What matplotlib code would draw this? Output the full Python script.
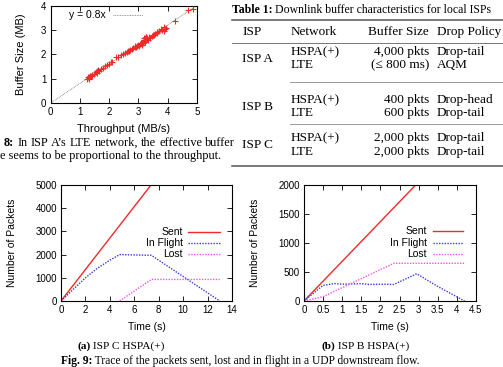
import numpy as np
import matplotlib
matplotlib.use('Agg')
import matplotlib.pyplot as plt
from matplotlib.lines import Line2D

W, H = 503, 367
SANS = ['Liberation Sans', 'DejaVu Sans']
SERIF = ['Liberation Serif', 'DejaVu Serif']

# ---- data (Fig. 8) ----
thr = [1.25, 1.28, 1.30, 1.33, 1.36, 1.40, 1.43, 1.47, 1.55, 1.60, 1.63, 1.67,
       1.72, 1.80, 1.86, 1.92, 2.00, 2.05, 2.10, 2.22, 2.30, 2.42, 2.48, 2.55,
       2.60, 2.65, 2.72, 2.78, 2.83, 2.88, 2.92, 2.96, 3.00, 3.03, 3.06, 3.09,
       3.12, 3.14, 3.16, 3.18, 3.20, 3.22, 3.23, 3.25, 3.26, 3.28, 3.30, 3.32,
       3.35, 3.40, 3.45, 3.52, 3.58, 3.65, 3.72, 3.78, 3.82, 3.86, 3.90, 3.93,
       4.25, 4.70, 4.88, 1.32, 1.38, 1.58, 2.68, 2.90, 3.10, 3.19, 3.24, 3.27,
       3.50, 3.62, 3.88]
buf = [0.98, 1.05, 1.02, 1.08, 1.10, 1.12, 1.15, 1.18, 1.28, 1.30, 1.36, 1.33,
       1.38, 1.45, 1.50, 1.55, 1.60, 1.68, 1.70, 1.90, 1.90, 1.95, 2.02, 2.05,
       2.10, 2.12, 2.18, 2.20, 2.25, 2.28, 2.30, 2.35, 2.38, 2.32, 2.42, 2.45,
       2.40, 2.50, 2.47, 2.55, 2.60, 2.52, 2.68, 2.58, 2.72, 2.62, 2.65, 2.60,
       2.70, 2.68, 2.75, 2.80, 2.85, 2.88, 2.95, 3.05, 2.98, 3.10, 3.02, 3.08,
       3.38, 3.83, 3.85, 1.00, 1.12, 1.24, 2.14, 2.33, 2.48, 2.66, 2.50, 2.70,
       2.78, 2.92, 2.95]
fit_x = [0, 5]
fit_y = [0, 4]

# ---- data (Fig. 9a, ISP C HSPA+) ----
sent_a_t = [0, 14]
sent_a = [0, 9500]
fl_a_t = [0, 1, 2, 3, 4, 4.8, 7.4, 13]
fl_a = [0, 500, 1000, 1420, 1760, 2000, 1970, 0]
lost_a_t = [4.8, 7.4, 13]
lost_a = [0, 930, 930]

# ---- data (Fig. 9b, ISP B HSPA+) ----
sent_b_t = [0, 4.5]
sent_b = [0, 3080]
fl_b_t = [0, 0.5, 0.8, 1.0, 1.3, 1.5, 1.7, 2.0, 2.35, 2.95, 3.5, 4.2]
fl_b = [0, 270, 300, 290, 295, 300, 285, 290, 285, 470, 250, 0]
lost_b_t = [0, 0.5, 2.35, 4.2]
lost_b = [0, 75, 650, 650]

# ---- table 1 ----
isp_names = ['ISP A', 'ISP B', 'ISP C']
networks = ['HSPA(+)', 'LTE']
buf_sizes = [['4,000 pkts', '(\u2264 800 ms)'], ['400 pkts', '600 pkts'],
             ['2,000 pkts', '2,000 pkts']]
policies = [['Drop-tail', 'AQM'], ['Drop-head', 'Drop-tail'],
            ['Drop-tail', 'Drop-tail']]

RED = '#ee2a2a'
BLUE = '#3a3ad6'
MAG = '#ee55ee'

fig = plt.figure(figsize=(W / 100, H / 100), dpi=100)
rend = fig.canvas.get_renderer()


def fx(x):
    return x / W


def fy(y):
    return 1 - y / H


def add_ax(x0, y0, x1, y1):
    ax = fig.add_axes([fx(x0), fy(y1), (x1 - x0) / W, (y1 - y0) / H])
    ax.tick_params(direction='in', top=True, right=True, length=3.5, width=0.6,
                   labelsize=7, pad=3)
    for s in ax.spines.values():
        s.set_linewidth(0.8)
    for lab in ax.get_xticklabels() + ax.get_yticklabels():
        lab.set_family(SANS)
    return ax


def ftext(x, y, s, size=8, family=SERIF, **kw):
    return fig.text(fx(x), fy(y), s, fontsize=size, family=family, **kw)


def fline(x0, x1, y0, y1, **kw):
    fig.add_artist(Line2D([fx(x0), fx(x1)], [fy(y0), fy(y1)],
                          transform=fig.transFigure, **kw))


def rich(x, y, parts, size=8, va='center'):
    # parts: list of (text, weight)
    cur = x
    for s, w in parts:
        t = ftext(cur, y, s, size=size, weight=w, va=va, ha='left')
        cur += t.get_window_extent(renderer=rend).width


def justify(x0, x1, y, words, size=8):
    # words: list of (word, weight), spread from x0 to x1 like LaTeX
    arts = [ftext(x0, y, s, size=size, weight=w, va='center') for s, w in words]
    widths = [a.get_window_extent(renderer=rend).width for a in arts]
    gap = (x1 - x0 - sum(widths)) / (len(words) - 1)
    cur = x0
    for a, wd in zip(arts, widths):
        a.set_x(fx(cur))
        cur += wd + gap


def legend(x_txt, x0, x1, ys):
    items = [('Sent', RED, '-'), ('In Flight', BLUE, (0, (1, 1))),
             ('Lost', MAG, (0, (1, 1)))]
    for (lab, c, ls), y in zip(items, ys):
        ftext(x_txt, y, lab, size=7.5, family=SANS, ha='right', va='center')
        fline(x0, x1, y, y, color=c, linestyle=ls, linewidth=1)


# ---- Fig. 8 scatter ----
ax = add_ax(50.5, 5.5, 197, 103)
ax.plot(fit_x, fit_y, color='#777777', linestyle=(0, (1, 1)), linewidth=0.6)
ax.scatter(thr, buf, marker='+', color=RED, s=22, linewidths=0.8, zorder=3)
ax.set_xlim(0, 5)
ax.set_ylim(0, 4)
ax.set_xticks(range(0, 6))
ax.set_yticks(range(0, 5))
ax.set_xlabel('Throughput (MB/s)', fontsize=8, family=SANS, labelpad=5)
ax.set_ylabel('Buffer Size (MB)', fontsize=8, family=SANS, labelpad=11)
ftext(106, 15, 'y = 0.8x', size=7.5, family=SANS, ha='right', va='center')
fline(113, 143, 15, 15, color='#777777', linestyle=(0, (1, 1)), linewidth=0.6)

# caption of Fig. 8, cut by the left edge of the page crop (justified line)
cap8 = [('8:', 'bold')] + [(w, 'normal') for w in
                           "In ISP A\u2019s LTE network, the effective buffer".split()]
justify(4, 235, 143, cap8, size=8.8)
ftext(0, 156, 'e seems to be proportional to the throughput.', size=8.8,
      va='center')

# ---- Table 1 ----
rich(232, 10, [('Table 1:', 'bold'),
               (' Downlink buffer characteristics for local ISPs', 'normal')],
     size=8.5)
fline(232, 503, 20, 20, color='#555555', linewidth=1.1)
fline(232, 503, 43, 43, color='#777777', linewidth=0.7)
fline(290, 503, 82, 82, color='#999999', linewidth=0.7)
fline(290, 503, 124, 124, color='#999999', linewidth=0.7)
fline(232, 503, 166, 166, color='#555555', linewidth=1.1)

TS = 9.5
hdr_y = 32
ftext(242, hdr_y, 'ISP', size=TS, va='center')
ftext(291, hdr_y, 'Network', size=TS, va='center')
ftext(429, hdr_y, 'Buffer Size', size=TS, va='center', ha='right')
ftext(437, hdr_y, 'Drop Policy', size=TS, va='center')

row_y = [[52, 65], [100, 113], [138, 152]]
for i, name in enumerate(isp_names):
    ys = row_y[i]
    ftext(242, (ys[0] + ys[1]) / 2, name, size=TS, va='center')
    for j in range(2):
        ftext(291, ys[j], networks[j], size=TS, va='center')
        ftext(429, ys[j], buf_sizes[i][j], size=TS, va='center', ha='right')
        ftext(437, ys[j], policies[i][j], size=TS, va='center')

# ---- Fig. 9a ----
ax = add_ax(61, 185, 232, 301)
ax.plot(sent_a_t, sent_a, color=RED, linewidth=1)
ax.plot(fl_a_t, fl_a, color=BLUE, linestyle=(0, (1, 1)), linewidth=1)
ax.plot(lost_a_t, lost_a, color=MAG, linestyle=(0, (1, 1)), linewidth=1)
ax.set_xlim(0, 14)
ax.set_ylim(0, 5000)
ax.set_xticks(range(0, 15, 2))
ax.set_yticks(range(0, 5001, 1000))
ax.set_xlabel('Time (s)', fontsize=7.5, family=SANS, labelpad=5)
ax.set_ylabel('Number of Packets', fontsize=7.5, family=SANS, labelpad=13)
legend(183, 188, 220, [232, 243, 254])

# ---- Fig. 9b ----
ax = add_ax(304, 185, 476, 301)
ax.plot(sent_b_t, sent_b, color=RED, linewidth=1)
ax.plot(fl_b_t, fl_b, color=BLUE, linestyle=(0, (1, 1)), linewidth=1)
ax.plot(lost_b_t, lost_b, color=MAG, linestyle=(0, (1, 1)), linewidth=1)
ax.set_xlim(0, 4.5)
ax.set_ylim(0, 2000)
ax.set_xticks(np.arange(0, 4.51, 0.5))
ax.set_xticklabels(['0', '0.5', '1', '1.5', '2', '2.5', '3', '3.5', '4', '4.5'])
ax.set_yticks(range(0, 2001, 500))
ax.set_xlabel('Time (s)', fontsize=7.5, family=SANS, labelpad=5)
ax.set_ylabel('Number of Packets', fontsize=7.5, family=SANS, labelpad=13)
legend(427, 433, 463, [231, 243, 254])

# ---- captions ----
rich(77, 346, [('(a)', 'bold'), (' ISP C HSPA(+)', 'normal')], size=8.2)
rich(321, 346, [('(b)', 'bold'), (' ISP B HSPA(+)', 'normal')], size=8.2)
rich(61, 361, [('Fig. 9:', 'bold'),
               (' Trace of the packets sent, lost and in flight in a UDP downstream flow.',
                'normal')], size=8.3)

fig.savefig('out.png', dpi=100)
